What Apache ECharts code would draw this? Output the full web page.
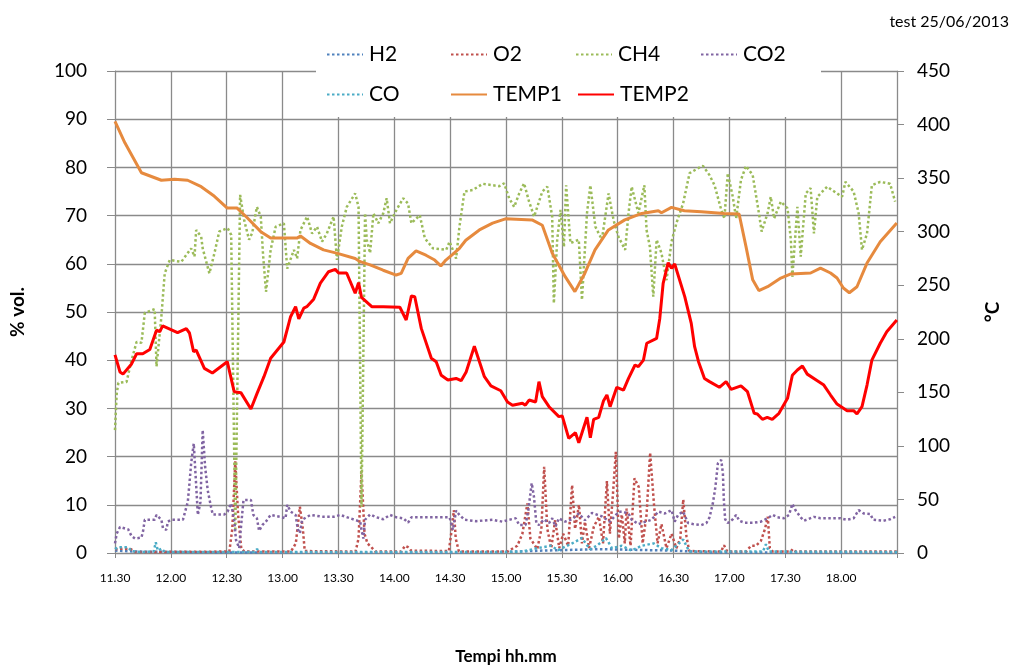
<!DOCTYPE html>
<html>
<head>
<meta charset="utf-8">
<script src="https://cdn.jsdelivr.net/npm/echarts@6/dist/echarts.min.js"></script>
<style>
html, body { margin: 0; padding: 0; background: #fff; }
#chart { width: 1023px; height: 670px; }
</style>
</head>
<body>
<div id="chart"></div>
<script>
// x values are minutes after 11.30
const timeLabels = ['11.30', '12.00', '12.30', '13.00', '13.30', '14.00', '14.30', '15.00', '15.30', '16.00', '16.30', '17.00', '17.30', '18.00', '']

const h2 = [[0, 0.5], [10, 0.3], [60, 0.1], [200, 0.1], [230, 0.5], [260, 0.8], [300, 0.5], [320, 0.1], [420, 0.1]]

const o2 = [[0, 0.8], [4.3, 0.9], [8.5, 0.8], [10.7, 0.2], [61.4, 0.3], [63, 5], [64.6, 19], [66.1, 8], [67.8, 1], [69.4, 0.3],
	[94.5, 0.3], [97.1, 2], [99.3, 9.6], [100.9, 5], [101.9, 0.4], [129.2, 0.3], [130.8, 3], [132.4, 17], [134, 4], [135.6, 2],
	[137.7, 1.2], [139.8, 0.3], [153.7, 0.3], [155.8, 1.5], [157.4, 1.2], [159, 0.5], [179.3, 0.4], [180.9, 5], [182, 8.9], [183, 3],
	[184.7, 0.3], [210.8, 0.3], [216.1, 1.5], [218.8, 4], [221.5, 10.3], [223.1, 3], [226.8, 0.8], [229, 5], [230.5, 17.9], [232.2, 5],
	[234.3, 1], [236.4, 6.8], [238.6, 1], [240.7, 4], [243.4, 1.5], [245.5, 14.1], [247.1, 5], [249.2, 10], [250.8, 2], [252.4, 6.5],
	[254.6, 1], [257.2, 5.5], [259.9, 7.5], [262.1, 2], [264.2, 14.9], [265.8, 4], [267.4, 12], [269, 21], [270.6, 3], [272.2, 8],
	[273.8, 2], [274.8, 9.2], [276.9, 1.5], [279, 15.5], [281.3, 13.7], [283.4, 2], [285.5, 8], [287.4, 20.8], [289.5, 10], [291.4, 2],
	[293.5, 6], [296.2, 1], [298.9, 4], [301.5, 1], [303.6, 3], [305.2, 11.1], [306.9, 3.5], [308.4, 0.4], [325.5, 0.3], [327.1, 1.6],
	[328.8, 0.3], [338.9, 0.3], [341.6, 1.5], [344.2, 1.5], [346.9, 2.5], [349.1, 5], [350.6, 7.5], [351.7, 1], [353.3, 0.3],
	[362.9, 0.3], [364, 0.8], [365.6, 0.3], [420, 0.3]]

const ch4 = [[0, 25.5], [0.9, 33], [1.8, 35.3], [6.2, 35.5], [8.9, 40], [11.6, 43.8], [14.2, 43.6], [16, 49.8], [21.3, 50.6], [22.3, 38.7],
	[24.9, 49], [26.7, 58], [29.4, 60.8], [35.6, 60.4], [40.9, 63.2], [42.7, 61.5], [43.6, 67], [46.3, 65.6], [47.1, 63.2], [50.7, 58],
	[53.4, 62.2], [56, 66.7], [60.5, 67.4], [62.4, 66], [64.6, 4.5], [67.2, 74.3], [69.4, 69], [72, 65], [73.7, 66.4], [76.2, 71.8],
	[78.3, 69.8], [79.5, 62], [81.1, 54.2], [83.6, 62.9], [86.3, 67.7], [90.7, 68.4], [92.5, 59], [96.1, 62.9], [97.8, 61.1], [99.6, 67],
	[103.2, 69.8], [105.8, 66.3], [108.5, 67.7], [111.2, 64.6], [113.8, 66.3], [117.4, 69.8], [119.2, 60.8], [121.8, 67.7], [124.5, 71.8], [129, 74.6],
	[130.8, 71.8], [132.4, 9.6], [134.3, 70.5], [135.2, 65], [137, 62.2], [138.8, 70.5], [141.4, 68.4], [144.1, 70.5], [145.9, 73.6], [147.7, 68.4],
	[151.2, 71.2], [154.8, 73.6], [157.4, 72.5], [159.2, 68.4], [163.7, 70.1], [166.4, 65.3], [170.8, 63.2], [177.9, 62.9], [179.7, 64.6], [183.2, 61.1],
	[185, 67.7], [187.7, 75], [192.1, 75.3], [197.5, 76.6], [206.4, 76.1], [209, 76.7], [211.7, 73.6], [214.4, 71.8], [217.1, 74.6], [219.7, 76.7],
	[222.4, 72.9], [225.1, 69.8], [229.5, 75], [232.2, 76], [234.8, 69.8], [235.7, 51.8], [237.5, 65], [239.3, 71.2], [241.1, 63.5], [242.3, 76.3],
	[244.6, 64.3], [249.1, 65], [250.8, 52.5], [253.5, 70.5], [255.3, 76.3], [258, 67.7], [261.5, 65], [265.1, 74.6], [267.8, 69], [270.4, 65.6],
	[274, 62.9], [275.8, 70.5], [277.5, 76], [281.1, 70.5], [284.3, 76.3], [285.5, 67], [287.3, 63.5], [289.1, 53.2], [290.9, 65], [293.5, 62.2],
	[296.2, 56.6], [298.9, 64.6], [301.5, 68.4], [305.1, 72.5], [308.6, 78.8], [314, 80], [315.8, 80.3], [319.3, 78.4], [322, 76.3], [325.6, 71.2],
	[327.3, 69.4], [329.1, 78.8], [331.8, 73.9], [333.6, 69.4], [336.2, 77.4], [338.9, 80.3], [342.5, 78.4], [346, 70.1], [347.3, 66.7], [350.5, 70.5],
	[352.2, 73.9], [354, 69.4], [357.6, 72.9], [361.2, 71.5], [363, 65], [363.8, 57.3], [366.5, 71.8], [368.3, 61.5], [371, 74.6], [373.6, 75.7],
	[375.4, 66.3], [377.2, 73.9], [382.5, 76], [387.8, 74.6], [390.5, 73.9], [392.3, 77], [396.7, 75], [399.4, 70.5], [401.2, 62.9], [403.9, 66.3],
	[406.5, 76.3], [411, 77], [416.3, 76.6], [419, 72.9]]

const co2 = [[0, 2], [0.9, 4], [2.7, 5.4], [7.1, 4.9], [8.9, 3.5], [10.7, 3], [14.2, 3.2], [15.1, 4.6], [16, 6.9], [21.3, 6.9],
	[22.3, 7.9], [24.9, 6.9], [25.8, 5.1], [27.6, 4.8], [28.4, 6.5], [30.3, 6.9], [36.5, 6.9], [37.4, 8.2], [39.1, 10.6], [40, 14.5],
	[40.9, 18.6], [42.3, 22.7], [43.6, 14], [44.5, 7.9], [45.9, 10.6], [47.1, 25.5], [48.4, 17.9], [49.8, 13], [51.6, 9.5], [52.5, 8],
	[58.7, 8], [60.5, 8.6], [62.3, 10.3], [64, 6.9], [65, 2.7], [66.7, 1], [67.6, 5.1], [69, 11], [73, 11], [74.3, 7.9],
	[76.2, 7.2], [77.4, 4.6], [79.1, 5.8], [81, 6.5], [83.6, 7.9], [89, 7.5], [91.6, 7.2], [92.5, 10], [94.3, 8.6], [97, 7.9],
	[98.2, 4.9], [99.3, 4.1], [100.5, 6.9], [105, 7.9], [112.1, 7.5], [117.4, 7.5], [121, 7.9], [126.3, 7.2], [131.7, 6.5], [132.4, 4.8],
	[133.4, 3], [134.3, 6.9], [137, 8], [140.5, 7.4], [144.1, 7], [147.7, 7.9], [151.2, 7.4], [154.8, 7.2], [157.4, 6.3], [159.2, 7.4],
	[179.7, 7.4], [181.5, 4.8], [183.2, 8.8], [185, 7.9], [187.7, 6.9], [193.9, 6.6], [202.8, 6.9], [208.1, 6.5], [211.7, 6.9], [215.2, 7.2],
	[217.1, 5.8], [220.5, 5.8], [222, 8.9], [223.8, 14.5], [225, 11.7], [226.3, 6.2], [227.7, 5.8], [230.4, 7], [233.1, 6.2], [234.8, 7.2],
	[236.6, 5.5], [238.4, 7.2], [241.8, 6.5], [245.5, 7], [249.1, 8.2], [252.4, 6.8], [256.2, 8.3], [261.5, 7.6], [265.8, 6.5], [270.4, 8.5],
	[272.2, 8.6], [275.8, 8.2], [277.5, 6.9], [281.1, 6], [288.2, 6.9], [291.8, 8.6], [295.3, 8.2], [298.9, 8.9], [300.6, 6.5], [302.4, 7.9],
	[305.1, 8.6], [307.8, 6.2], [310.4, 6], [314.9, 5.8], [317.6, 6.2], [319.3, 7.4], [321.1, 10.3], [322.5, 13.8], [323.8, 18.6], [325.6, 19.3],
	[326.5, 16.5], [327, 11], [327.7, 7], [329.1, 6.2], [331.8, 7], [333.6, 7.9], [335.3, 6.7], [338, 6.3], [343.3, 6.3], [346.9, 6.5],
	[350.5, 7.2], [353.2, 7.9], [355.8, 7.4], [359.3, 7.2], [362, 7.9], [363.8, 10.2], [365.6, 8.8], [368.3, 7.4], [370, 6.7], [375.4, 7.5],
	[378.9, 7.2], [386, 7.2], [389.6, 7.2], [393.2, 6.9], [396.7, 7.2], [399.4, 8.9], [402.1, 8.2], [405.7, 8.1], [407.1, 6.9], [412.7, 6.7],
	[416.3, 7], [419, 7.5]]

const co = [[0, 0.8], [1.6, 1.2], [6.9, 1.2], [9.1, 0.4], [13.3, 0.2], [20.8, 0.3], [21.9, 2.2], [23, 0.5], [25.1, 0.9], [26.7, 0.2],
	[74.7, 0.2], [76.3, 0.8], [77.9, 0.2], [208.1, 0.2], [218.8, 0.3], [226.8, 1], [234.1, 1.5], [238, 0.6], [245.5, 2], [250.8, 3.1],
	[255.1, 0.8], [258.8, 1.5], [263.7, 3.1], [266.9, 1], [272.2, 1.5], [277.5, 0.5], [282.9, 1.5], [289.3, 2], [293.5, 1], [298.9, 0.6],
	[305.2, 2.8], [308.4, 0.3], [348, 0.3], [349.6, 1.8], [351.2, 0.3], [420, 0.2]]

const temp1 = [[0, 403], [5.3, 383], [14.2, 355], [24.9, 348], [32, 349], [39, 348], [46.3, 342], [53.4, 333], [60.3, 322], [65.6, 322],
	[71, 313], [78.3, 300], [83.6, 294], [97.7, 294], [99.6, 296], [105, 289], [112, 283], [119, 280], [129, 275], [131.7, 272],
	[137, 269], [144, 264], [151, 259.5], [153.7, 261], [157.4, 275], [161.7, 282], [167, 278], [171.7, 273.5], [175, 268], [177.7, 273.5],
	[181.5, 279], [185, 284.5], [188.4, 292], [195.7, 301.6], [202.8, 308], [209.7, 312], [224, 311], [229.5, 306], [234.8, 280], [241.8, 258],
	[247, 244], [252.3, 261], [257.8, 283], [265, 301.6], [273.8, 311], [282.9, 317], [291.8, 319.6], [293.5, 317.7], [298.9, 322.7], [305.8, 319.6],
	[314.9, 318.7], [327.2, 317], [335.2, 316.5], [338.9, 286], [342.5, 255], [345.8, 245], [350.5, 248.6], [357.6, 256.7], [363, 260.5], [373.6, 261.4],
	[378.9, 266], [384.3, 261.4], [387.8, 256.7], [391.2, 247.4], [394.4, 243], [398.5, 248.6], [403.9, 270.7], [411, 290.6], [419.9, 308]]

const temp2 = [[0, 185], [2.7, 169], [4.3, 167], [8.9, 176.5], [11.6, 186], [14.9, 186], [18.7, 190], [22.3, 208], [24, 206.6], [25.6, 212],
	[33.6, 205.7], [38.3, 209.4], [40, 205.4], [42.2, 188], [43.6, 189.5], [48, 172.4], [52.3, 168], [60.3, 178.6], [64, 150.6], [67.6, 149.7],
	[73, 134.4], [76.3, 149], [80, 164.6], [83.6, 181.8], [90.7, 197], [94.3, 220.6], [97, 230], [98.7, 218.5], [101.4, 228.7], [103, 230],
	[106.7, 237], [110.3, 252], [114.7, 262.6], [118.3, 264.8], [120.1, 261.4], [124.4, 261.4], [129, 242.5], [130.8, 252.4], [132.4, 238.7], [137.9, 230],
	[144.1, 230], [153, 229.4], [156.4, 217.5], [159.2, 240], [161, 239.3], [164.5, 209.7], [169.9, 181.8], [172.5, 178.6], [175.2, 166], [178.8, 161.5],
	[183.2, 163], [185.9, 160.9], [188.6, 169], [193, 193], [198.4, 164.6], [201.9, 156], [207.2, 151.5], [210.8, 141], [213.5, 138], [218.8, 139.8],
	[220.4, 138], [222.4, 142.8], [225.9, 141], [227.7, 160], [229.5, 146], [233.1, 136.6], [238.4, 127.3], [240.2, 128], [243.7, 107], [247.3, 112.3],
	[249.1, 103], [253.5, 126.7], [255.3, 107.6], [257.1, 124.8], [259.8, 126.7], [262.4, 142.2], [264.2, 147.5], [265.9, 136.6], [269.5, 154.7], [273.1, 152],
	[275.8, 163], [279.3, 175.5], [281.1, 174], [283.8, 180], [285.6, 195.8], [290.9, 200.4], [292.6, 219], [294.4, 251.8], [297.1, 271], [298.9, 265.8],
	[300.6, 269.8], [306, 239.3], [309.5, 214.4], [311.3, 192.6], [313.4, 178.6], [316.6, 163], [319.3, 160], [324.6, 154.7], [328.2, 160], [330.9, 152.8],
	[336.2, 156], [339.7, 150.6], [343.3, 130.4], [345, 129.8], [347.7, 124.8], [350.3, 126.7], [353, 124.8], [356.6, 130.4], [361.2, 144.4], [363.8, 166],
	[366.5, 170.9], [369.2, 174.6], [371.8, 167], [377.2, 160.9], [380.7, 156.8], [384.3, 147.5], [387.8, 139], [393.2, 132.9], [396.7, 132.9], [398.5, 129.8],
	[401.2, 136.6], [403.9, 156.8], [406.5, 180], [411, 195.8], [414.5, 206.6], [419.9, 217.5]]

const font = 'Lato, "Liberation Sans", sans-serif'
const gridColor = '#8a8a8a'
const dots = [2.5, 2.5]

const chart = echarts.init(document.getElementById('chart'))

const dotted = (name, data, color) => ({
	name: name,
	type: 'line',
	data: data,
	yAxisIndex: 0,
	symbol: 'none',
	animation: false,
	lineStyle: { color: color, width: 2.5, type: dots },
	itemStyle: { color: color }
})
const solid = (name, data, color) => ({
	name: name,
	type: 'line',
	data: data,
	yAxisIndex: 1,
	symbol: 'none',
	animation: false,
	lineStyle: { color: color, width: 3 },
	itemStyle: { color: color }
})

// legend placed by hand, two rows like the original
const legendPos = [
	['H2', 326, 44], ['O2', 450, 44], ['CH4', 575, 44], ['CO2', 700, 44],
	['CO', 326, 84], ['TEMP1', 450, 84], ['TEMP2', 577, 84]
]

const option = {
	backgroundColor: '#fff',
	animation: false,
	title: {
		text: 'test 25/06/2013',
		right: 9,
		top: 9,
		textStyle: { fontFamily: font, fontSize: 16, fontWeight: 'normal', color: '#000' }
	},
	graphic: [{
		type: 'rect',
		z: 1,
		shape: { x: 316, y: 38, width: 505, height: 79 },
		style: { fill: '#fff' }
	}],
	legend: legendPos.map(p => ({
		data: [p[0]],
		left: p[1],
		top: p[2],
		padding: 0,
		itemWidth: 36,
		itemHeight: 14,
		itemStyle: { opacity: 0 },
		textStyle: { fontFamily: font, fontSize: 21, color: '#000', padding: [0, 0, 0, 1] }
	})),
	grid: { left: 110, right: 126, top: 71, bottom: 117 },
	xAxis: {
		type: 'value',
		min: 0,
		max: 420,
		interval: 30,
		name: 'Tempi hh.mm',
		nameLocation: 'middle',
		nameGap: 95,
		nameTextStyle: { fontFamily: font, fontSize: 17, fontWeight: 'bold', color: '#000' },
		axisLine: { lineStyle: { color: gridColor } },
		axisTick: { show: true, length: 5, lineStyle: { color: gridColor } },
		axisLabel: {
			fontFamily: font, fontSize: 12, color: '#000', margin: 19,
			formatter: v => timeLabels[Math.round(v / 30)]
		},
		splitLine: { show: true, lineStyle: { color: gridColor, width: 1.3 } }
	},
	yAxis: [
		{
			type: 'value',
			min: 0,
			max: 100,
			interval: 10,
			name: '% vol.',
			nameLocation: 'middle',
			nameGap: 88,
			nameRotate: 90,
			nameTextStyle: { fontFamily: font, fontSize: 19, fontWeight: 'bold', color: '#000' },
			axisLine: { show: true, lineStyle: { color: gridColor } },
			axisTick: { show: true, length: 8, lineStyle: { color: gridColor } },
			axisLabel: { fontFamily: font, fontSize: 19, color: '#000', margin: 28 },
			splitLine: { show: true, lineStyle: { color: gridColor, width: 1.3 } }
		},
		{
			type: 'value',
			min: 0,
			max: 450,
			interval: 50,
			name: '°C',
			nameLocation: 'middle',
			nameGap: 86,
			nameRotate: 90,
			nameTextStyle: { fontFamily: font, fontSize: 19, fontWeight: 'bold', color: '#000' },
			axisLine: { show: true, lineStyle: { color: gridColor } },
			axisTick: { show: true, length: 7, lineStyle: { color: gridColor } },
			axisLabel: { fontFamily: font, fontSize: 19, color: '#000', margin: 20 },
			splitLine: { show: false }
		}
	],
	series: [
		dotted('H2', h2, '#4F81BD'),
		dotted('O2', o2, '#C0504D'),
		dotted('CH4', ch4, '#9BBB59'),
		dotted('CO2', co2, '#8064A2'),
		dotted('CO', co, '#4BACC6'),
		solid('TEMP1', temp1, '#E68A3E'),
		solid('TEMP2', temp2, '#FF0000')
	]
}

chart.setOption(option)
</script>
</body>
</html>
